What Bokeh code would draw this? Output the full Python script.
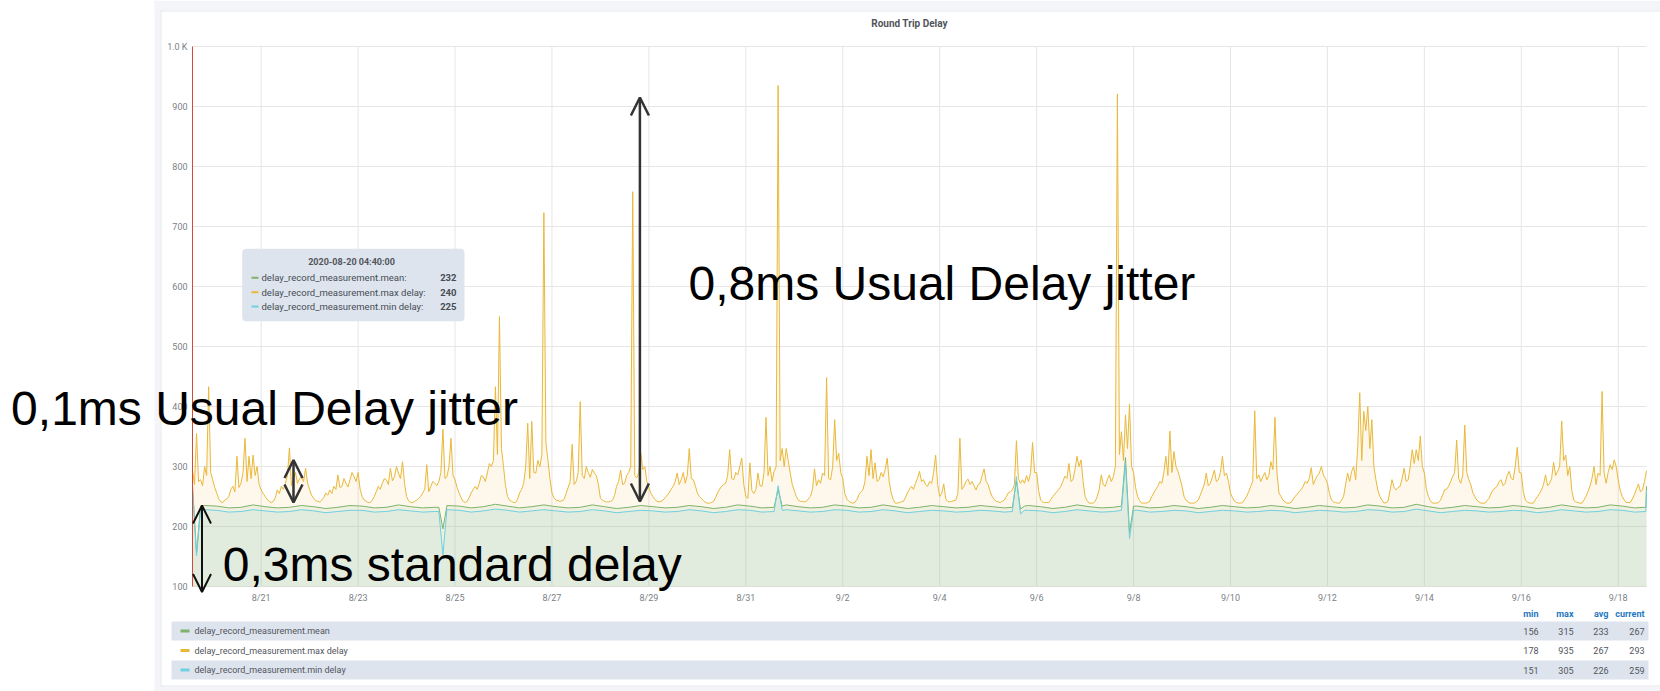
import pandas as pd
from bokeh.plotting import figure
from bokeh.models import Range1d, BoxAnnotation, Label, Arrow, OpenHead
from bokeh.core.properties import value
from bokeh.embed import file_html
from bokeh.resources import INLINE

# ---------------- data ----------------
range_start = "2020-08-19 14:00"
range_end = "2020-09-18 14:00"

# max delay, one value every hour from range_start
max_delay = [
    294, 270, 355, 275, 278, 268, 300, 285, 433, 290,                                                # 8/19 14-23h
    278, 265, 256, 246, 241, 240, 244, 246, 250, 262, 267, 258, 317, 265, 272, 290, 347, 275, 317, 280, 319, 285, 300, 270,  # 8/20
    261, 255, 250, 245, 242, 240, 242, 248, 261, 255, 267, 262, 272, 285, 331, 268, 278, 290, 272, 280, 283, 275, 297, 272,  # 8/21
    261, 252, 247, 243, 242, 241, 244, 248, 256, 252, 261, 255, 267, 262, 286, 265, 267, 280, 272, 266, 278, 290, 283, 275,  # 8/22
    290, 262, 250, 244, 242, 240, 240, 244, 250, 258, 267, 262, 272, 280, 278, 270, 297, 276, 283, 300, 289, 280, 308, 272,  # 8/23
    250, 243, 240, 240, 242, 244, 247, 250, 256, 262, 303, 258, 267, 275, 272, 268, 275, 290, 362, 280, 283, 300, 347, 285,  # 8/24
    278, 265, 256, 248, 242, 240, 242, 248, 256, 262, 267, 262, 272, 285, 283, 275, 289, 305, 300, 310, 433, 320, 550, 330,  # 8/25
    300, 268, 250, 244, 242, 240, 240, 246, 256, 262, 272, 300, 372, 280, 375, 290, 289, 310, 300, 320, 723, 340, 311, 280,  # 8/26
    256, 248, 244, 243, 242, 243, 245, 255, 265, 275, 337, 270, 275, 290, 408, 285, 280, 300, 290, 282, 295, 289, 285, 270,  # 8/27
    247, 244, 242, 241, 241, 242, 244, 252, 267, 275, 294, 270, 272, 285, 290, 300, 758, 285, 281, 290, 322, 295, 300, 275,  # 8/28
    265, 255, 250, 245, 242, 241, 242, 244, 248, 252, 256, 262, 267, 275, 289, 270, 278, 290, 272, 285, 330, 280, 278, 268,  # 8/29
    256, 250, 247, 243, 240, 239, 239, 240, 242, 248, 256, 262, 267, 270, 272, 285, 328, 280, 278, 290, 286, 300, 314, 270,  # 8/30
    250, 247, 306, 260, 255, 262, 289, 268, 267, 290, 382, 285, 300, 275, 292, 300, 935, 310, 330, 300, 330, 310, 289, 270,  # 8/31
    260, 250, 244, 242, 242, 241, 242, 246, 250, 262, 296, 268, 278, 272, 289, 285, 448, 280, 278, 300, 378, 310, 322, 290,  # 9/1
    280, 255, 246, 242, 240, 239, 240, 245, 253, 258, 261, 275, 317, 285, 328, 280, 306, 275, 278, 290, 283, 295, 314, 275,  # 9/2
    256, 245, 239, 239, 240, 241, 242, 248, 256, 262, 267, 262, 272, 280, 292, 275, 278, 270, 267, 275, 272, 290, 319, 270,  # 9/3
    250, 255, 271, 246, 242, 241, 242, 243, 244, 255, 347, 262, 267, 275, 279, 270, 275, 268, 261, 270, 272, 285, 296, 275,  # 9/4
    270, 258, 250, 245, 242, 241, 240, 242, 244, 250, 256, 258, 261, 270, 343, 280, 272, 278, 272, 285, 275, 290, 340, 290,  # 9/5
    290, 260, 244, 241, 240, 240, 240, 245, 250, 254, 258, 262, 267, 275, 284, 280, 305, 275, 278, 295, 317, 300, 311, 275,  # 9/6
    250, 243, 239, 239, 239, 242, 250, 262, 286, 270, 267, 278, 286, 275, 283, 300, 921, 320, 358, 310, 386, 330, 404, 300,  # 9/7
    290, 265, 250, 243, 239, 239, 239, 240, 242, 250, 256, 262, 267, 275, 272, 290, 317, 285, 359, 290, 325, 300, 292, 280,  # 9/8
    267, 250, 244, 241, 239, 239, 239, 241, 244, 252, 261, 270, 289, 268, 272, 282, 294, 275, 278, 290, 317, 285, 289, 275,  # 9/9
    256, 248, 242, 240, 239, 239, 240, 245, 250, 258, 267, 275, 393, 280, 286, 275, 283, 290, 278, 285, 308, 295, 382, 290,  # 9/10
    256, 250, 244, 241, 239, 239, 240, 245, 250, 254, 258, 262, 267, 275, 272, 280, 298, 270, 278, 285, 289, 300, 286, 280,  # 9/11
    272, 255, 244, 241, 240, 239, 239, 244, 250, 270, 289, 275, 292, 300, 278, 333, 423, 310, 392, 360, 400, 330, 378, 300,  # 9/12
    278, 260, 250, 244, 239, 240, 242, 260, 278, 265, 261, 265, 267, 280, 297, 275, 278, 300, 328, 305, 328, 310, 351, 300,  # 9/13
    289, 262, 250, 243, 239, 239, 239, 240, 244, 252, 261, 262, 267, 275, 283, 290, 344, 280, 272, 285, 369, 290, 278, 270,  # 9/14
    256, 250, 244, 241, 239, 239, 239, 243, 247, 255, 261, 264, 267, 275, 278, 268, 272, 285, 292, 280, 278, 300, 332, 290,  # 9/15
    289, 258, 244, 241, 239, 239, 239, 245, 250, 255, 261, 270, 286, 268, 272, 280, 307, 285, 292, 300, 376, 310, 319, 285,  # 9/16
    300, 260, 244, 241, 240, 239, 239, 244, 250, 258, 267, 280, 300, 270, 289, 285, 425, 290, 272, 290, 303, 295, 311, 300,  # 9/17
    278, 260, 250, 244, 240, 240, 240, 246, 253, 262, 271, 258, 261, 275, 293,                                          # 9/18 0-14h
]

# mean delay, one value every 6 hours from range_start
mean_delay = [
    268, 235,
    234, 231, 232, 236,  233, 231, 232, 235,  233, 230, 232, 235,  234, 231, 232, 236,
    233, 231, 232, 235,  234, 231, 233, 237,  234, 231, 233, 236,  233, 231, 232, 236,
    233, 230, 232, 235,  233, 231, 232, 235,  233, 230, 232, 236,  234, 231, 232, 236,
    233, 231, 232, 236,  234, 231, 232, 236,  233, 230, 232, 235,  233, 231, 232, 235,
    233, 231, 233, 235,  233, 230, 232, 236,  233, 231, 232, 236,  234, 231, 232, 235,
    233, 230, 232, 235,  233, 231, 232, 235,  233, 230, 232, 235,  233, 231, 232, 236,
    234, 231, 232, 237,  233, 230, 232, 235,  233, 231, 232, 235,  233, 230, 232, 236,
    233, 231, 232, 236,
    234, 231, 267,
]

# min delay, one value every 6 hours from range_start
min_delay = [
    265, 228,
    227, 224, 225, 228,  226, 224, 225, 228,  226, 223, 225, 227,  227, 224, 225, 228,
    226, 224, 225, 228,  227, 224, 226, 229,  227, 224, 226, 228,  226, 224, 225, 228,
    226, 223, 225, 227,  226, 224, 225, 228,  226, 223, 225, 228,  227, 224, 225, 228,
    226, 224, 225, 228,  227, 224, 225, 228,  226, 223, 225, 227,  226, 224, 225, 227,
    226, 224, 226, 227,  226, 223, 225, 228,  226, 224, 225, 228,  227, 224, 225, 227,
    226, 223, 225, 227,  226, 224, 225, 227,  226, 223, 225, 227,  226, 224, 225, 228,
    227, 224, 225, 229,  226, 223, 225, 227,  226, 224, 225, 227,  226, 223, 225, 228,
    226, 224, 225, 228,
    227, 224, 259,
]

# short excursions of mean / min (with the readings just around them)
event_times = ["2020-08-19 16:00", "2020-08-19 18:00",
               "2020-08-24 16:00", "2020-08-24 18:00",
               "2020-08-31 16:00", "2020-08-31 18:00",
               "2020-09-05 12:00", "2020-09-05 14:00", "2020-09-05 16:00", "2020-09-05 18:00",
               "2020-09-07 18:00", "2020-09-07 20:00", "2020-09-07 22:00", "2020-09-08 00:00",
               "2020-09-18 13:40"]
mean_events = [156, 234, 232, 196, 262, 234, 232, 276, 229, 234, 234, 315, 190, 234, 232]
min_events = [151, 227, 225, 153, 268, 227, 225, 283, 221, 227, 227, 305, 180, 227, 225]

y_ticks = [100, 200, 300, 400, 500, 600, 700, 800, 900, 1000]
y_tick_labels = ["100", "200", "300", "400", "500", "600", "700", "800", "900", "1.0 K"]
x_tick_dates = ["2020-08-21", "2020-08-23", "2020-08-25", "2020-08-27", "2020-08-29",
                "2020-08-31", "2020-09-02", "2020-09-04", "2020-09-06", "2020-09-08",
                "2020-09-10", "2020-09-12", "2020-09-14", "2020-09-16", "2020-09-18"]
x_tick_labels = ["8/21", "8/23", "8/25", "8/27", "8/29", "8/31", "9/2", "9/4",
                 "9/6", "9/8", "9/10", "9/12", "9/14", "9/16", "9/18"]

series_names = ["delay_record_measurement.mean",
                "delay_record_measurement.max delay",
                "delay_record_measurement.min delay"]
series_colors = ["#7EB26D", "#EAB839", "#6ED0E0"]
stat_headers = ["min", "max", "avg", "current"]
stats = [[156, 315, 233, 267],
         [178, 935, 267, 293],
         [151, 305, 226, 259]]
tooltip_time = "2020-08-20 04:40:00"
tooltip_values = [232, 240, 225]

chart_title = "Round Trip Delay"
notes = ["0,8ms Usual Delay jitter", "0,1ms Usual Delay jitter", "0,3ms standard delay"]

# ---------------- helpers ----------------
def to_ms(idx):
    return [int(v) for v in pd.DatetimeIndex(idx).asi8 // 10**6]

def merged(grid_vals, freq, ev_vals):
    s = pd.Series(grid_vals, index=pd.date_range(range_start, periods=len(grid_vals), freq=freq))
    e = pd.Series(ev_vals, index=pd.to_datetime(event_times))
    s = pd.concat([s[~s.index.isin(e.index)], e]).sort_index()
    return to_ms(s.index), [float(v) for v in s.values]

x_max = to_ms(pd.date_range(range_start, periods=len(max_delay), freq="1h"))
x_mean, y_mean = merged(mean_delay, "6h", mean_events)
x_min, y_min = merged(min_delay, "6h", min_events)

x0 = to_ms([range_start])[0]
x1 = to_ms([range_end])[0]
x_ticks = to_ms(x_tick_dates)
y_lo, y_hi = y_ticks[0], y_ticks[-1]

# ---------------- layout (page pixels) ----------------
W, H = 1660, 691
FL, FT, FR, FB = 192, 46, 1646, 586     # where the data area sits on the page
kx = (x1 - x0) / (FR - FL)
ky = (y_hi - y_lo) / (FB - FT)

p = figure(width=W, height=H,
           x_range=Range1d(x0 - FL * kx, x1 + (W - FR) * kx),
           y_range=Range1d(y_lo - (H - FB) * ky, y_hi + FT * ky),
           output_backend="svg", toolbar_location=None,
           x_axis_location=None, y_axis_location=None, min_border=0)
p.title.visible = False
p.outline_line_color = None
p.grid.visible = False
p.background_fill_color = "white"
p.border_fill_color = "white"

def sx(X):
    return X

def sy(Y):
    return H - Y

# grid lines
grid_col = "#e6e6e6"
p.segment(x0=x_ticks, y0=[y_lo] * len(x_ticks), x1=x_ticks, y1=[y_hi] * len(x_ticks),
          line_color=grid_col, line_width=1)
p.segment(x0=[x0] * len(y_ticks), y0=y_ticks, x1=[x1] * len(y_ticks), y1=y_ticks,
          line_color=grid_col, line_width=1)

# series fills and lines
c_mean, c_max, c_min = series_colors
p.varea(x=x_max, y1=y_lo, y2=max_delay, fill_color=c_max, fill_alpha=0.1)
p.varea(x=x_mean, y1=y_lo, y2=y_mean, fill_color=c_mean, fill_alpha=0.1)
p.varea(x=x_min, y1=y_lo, y2=y_min, fill_color=c_min, fill_alpha=0.1)
p.line(x_mean, y_mean, line_color=c_mean, line_width=1)
p.line(x_max, max_delay, line_color=c_max, line_width=1)
p.line(x_min, y_min, line_color=c_min, line_width=1)

# left edge marker line
p.segment(x0=[x0], y0=[y_lo], x1=[x0], y1=[y_hi], line_color="#d44a3a", line_width=1)

# tick labels
tick_col = "#7b7f86"
p.text(x=[x0] * len(y_ticks), y=y_ticks, text=y_tick_labels, x_offset=-5,
       text_align="right", text_baseline="middle", text_font=value("Roboto"),
       text_font_size="9px", text_color=tick_col)
p.text(x=x_ticks, y=[y_lo] * len(x_ticks), text=x_tick_labels, y_offset=11,
       text_align="center", text_baseline="middle", text_font=value("Roboto"),
       text_font_size="9px", text_color=tick_col)

def box(l, r, t, b, color, radius=0):
    p.add_layout(BoxAnnotation(left=sx(l), right=sx(r), top=sy(t), bottom=sy(b),
                               left_units="screen", right_units="screen",
                               top_units="screen", bottom_units="screen",
                               fill_color=color, fill_alpha=1.0, line_color=None,
                               border_radius=radius, level="annotation"))

def label(X, Y, text, size="9px", color="#52545c", align="left", baseline="middle",
          bold=False, font="Roboto"):
    p.add_layout(Label(x=sx(X), y=sy(Y), x_units="screen", y_units="screen", text=text,
                       text_font=font, text_font_size=size, text_color=color,
                       text_align=align, text_baseline=baseline,
                       text_font_style="bold" if bold else "normal"))

# dashboard frame
box(154, 160, 0, 691, "#f4f5f8")
box(154, 1660, 0, 10, "#f4f5f8")
box(154, 1660, 686, 691, "#f4f5f8")
box(160, 1660, 10, 11, "#e6e8ec")
box(160, 161, 10, 686, "#e6e8ec")
box(160, 1660, 685, 686, "#e6e8ec")

label(909, 23, chart_title, size="10px", bold=True, align="center")

# tooltip
box(241.7, 464, 248.3, 320.7, "#dde4ed", radius=4)
label(351, 261, tooltip_time, size="9px", bold=True, align="center")
for i, (name, col, v) in enumerate(zip(series_names, series_colors, tooltip_values)):
    yy = 277.3 + i * 14.4
    box(251, 258, yy - 1, yy + 1, col)
    label(261, yy, name + ":", size="9.5px", color="#464c54")
    label(456, yy, str(v), size="9.5px", color="#464c54", align="right", bold=True)

# legend table
col_right = [1538, 1573, 1608, 1644]
for h, xr in zip(stat_headers, col_right):
    label(xr, 613, h, size="9px", color="#1f78c1", align="right", bold=True)
row_y = [630.5, 650, 669.5]
for i, (name, col, st) in enumerate(zip(series_names, series_colors, stats)):
    yy = row_y[i]
    if i != 1:
        box(171, 1648, yy - 9.5, yy + 9.5, "#dde4ed")
    box(180, 189, yy - 1.5, yy + 1.5, col)
    label(194, yy, name, size="9px")
    for v, xr in zip(st, col_right):
        label(xr, yy, str(v), size="9px", align="right")

# overlaid annotations
label(688, 282.5, notes[0], size="48px", color="black", baseline="alphabetic", font="Liberation Sans")
label(10.6, 407.5, notes[1], size="48px", color="black", baseline="alphabetic", font="Liberation Sans")
label(222.3, 564, notes[2], size="48px", color="black", baseline="alphabetic", font="Liberation Sans")

def darrow(X, Y0, Y1, color, width):
    p.add_layout(Arrow(x_start=sx(X), y_start=sy(Y0), x_end=sx(X), y_end=sy(Y1),
                       start_units="screen", end_units="screen",
                       start=OpenHead(size=18, line_color=color, line_width=width),
                       end=OpenHead(size=18, line_color=color, line_width=width),
                       line_color=color, line_width=width))

darrow(639.4, 97, 501, "#333333", 2.5)
darrow(293, 459.5, 502, "#333333", 2.5)
darrow(201.5, 505, 591.5, "#111111", 2)

open("out.html", "w").write(file_html(p, INLINE))
